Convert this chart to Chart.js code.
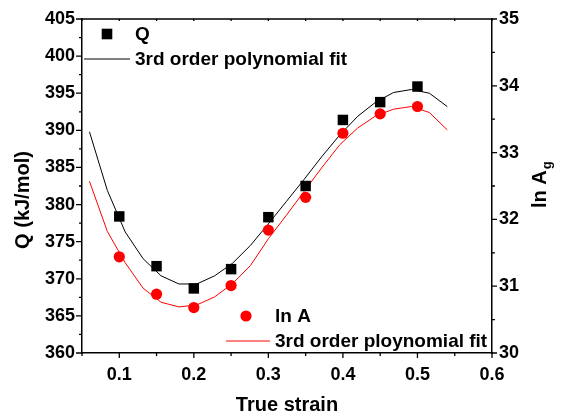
<!DOCTYPE html>
<html>
<head>
<meta charset="utf-8">
<script src="https://cdn.jsdelivr.net/npm/chart.js@4.4.0/dist/chart.umd.min.js"></script>
<style>
  html, body { margin: 0; padding: 0; background: #fff; }
</style>
</head>
<body>
<canvas id="chart" width="561" height="416"></canvas>
<script>
/* ── Data ─────────────────────────────────────────────────────── */
const strain = [0.10, 0.15, 0.20, 0.25, 0.30, 0.35, 0.40, 0.45, 0.50];
const qValues = [378.4, 371.7, 368.7, 371.3, 378.3, 382.5, 391.4, 393.8, 395.9];
const lnAValues = [31.44, 30.88, 30.68, 31.01, 31.84, 32.33, 33.29, 33.58, 33.69];

/* fitted curves, sampled where the original polyline bends */
const fitStrain = [0.060, 0.084, 0.108, 0.132, 0.156, 0.180, 0.204, 0.228, 0.252, 0.276, 0.300,
                   0.324, 0.348, 0.372, 0.396, 0.420, 0.444, 0.468, 0.492, 0.516, 0.540];
const qFit = [389.8, 381.9, 376.3, 372.7, 370.4, 369.3, 369.3, 370.4, 372.1, 374.5, 377.4,
              380.4, 383.4, 386.5, 389.4, 391.9, 393.8, 395.1, 395.5, 395.0, 393.2];
const lnAFit = [32.57, 31.82, 31.35, 30.97, 30.76, 30.69, 30.72, 30.84, 31.04, 31.31, 31.71,
                32.06, 32.42, 32.78, 33.12, 33.37, 33.55, 33.65, 33.69, 33.60, 33.34];

/* ── Axis ticks ───────────────────────────────────────────────── */
const xMajor = [0.1, 0.2, 0.3, 0.4, 0.5, 0.6];
const xMinor = [0.05, 0.15, 0.25, 0.35, 0.45, 0.55];
const yMajor = [360, 365, 370, 375, 380, 385, 390, 395, 400, 405];
const yMinor = [362.5, 367.5, 372.5, 377.5, 382.5, 387.5, 392.5, 397.5, 402.5];
const y2Major = [30, 31, 32, 33, 34, 35];
const y2Minor = [30.5, 31.5, 32.5, 33.5, 34.5];

const FONT = "'Liberation Sans', Arial, Helvetica, sans-serif";
const RED = '#ff0000';

Chart.defaults.font.family = FONT;
Chart.defaults.font.weight = 'bold';
Chart.defaults.color = '#000';

const toPoints = (xs, ys) => xs.map((x, i) => ({ x, y: ys[i] }));
const setTicks = (major, minor) => s => {
  s.ticks = major.concat(minor).sort((a, b) => a - b).map(v => ({ value: v }));
};

/* ── Ticks, frame, axis titles and the two legend blocks ──────── */
const decorations = {
  id: 'decorations',
  afterDraw(chart) {
    const { ctx, chartArea: a, scales } = chart;
    ctx.save();
    ctx.strokeStyle = '#000';
    ctx.lineWidth = 1.3;
    ctx.beginPath();
    scales.x.ticks.forEach(t => {
      const px = scales.x.getPixelForValue(t.value);
      ctx.moveTo(px, a.bottom); ctx.lineTo(px, a.bottom + (t.label ? 5 : 3));
      ctx.moveTo(px, a.top); ctx.lineTo(px, a.top + 2);
    });
    scales.y.ticks.forEach(t => {
      const py = scales.y.getPixelForValue(t.value);
      ctx.moveTo(a.left - (t.label ? 6 : 3), py); ctx.lineTo(a.left, py);
    });
    scales.y2.ticks.forEach(t => {
      const py = scales.y2.getPixelForValue(t.value);
      ctx.moveTo(a.right, py); ctx.lineTo(a.right + (t.label ? 5 : 3), py);
    });
    ctx.moveTo(a.left, a.top); ctx.lineTo(a.right, a.top);
    ctx.stroke();

    // axis titles
    ctx.fillStyle = '#000';
    ctx.font = `bold 20px ${FONT}`;
    ctx.textBaseline = 'middle';
    ctx.save();
    ctx.translate(23, 200);
    ctx.rotate(-Math.PI / 2);
    ctx.textAlign = 'center';
    ctx.fillText('Q (kJ/mol)', 0, 0);
    ctx.restore();

    ctx.save();
    ctx.translate(540, 208);
    ctx.rotate(-Math.PI / 2);
    ctx.textAlign = 'left';
    ctx.fillText('ln A', 0, 0);
    const w = ctx.measureText('ln A').width;
    ctx.font = `bold 13px ${FONT}`;
    ctx.fillText('g', w + 1, 7);
    ctx.restore();

    // legends
    ctx.font = `bold 19px ${FONT}`;
    ctx.textAlign = 'left';
    ctx.fillStyle = '#000';
    ctx.fillRect(107 - 5.3, 34 - 5.3, 10.6, 10.6);
    ctx.fillText('Q', 135, 35);
    ctx.lineWidth = 1;
    ctx.beginPath(); ctx.moveTo(84, 59); ctx.lineTo(130, 59); ctx.stroke();
    ctx.fillText('3rd order polynomial fit', 135, 60);

    ctx.fillStyle = RED;
    ctx.beginPath(); ctx.arc(246, 316, 5.6, 0, Math.PI * 2); ctx.fill();
    ctx.strokeStyle = RED;
    ctx.beginPath(); ctx.moveTo(226, 341); ctx.lineTo(270, 341); ctx.stroke();
    ctx.fillStyle = '#000';
    ctx.fillText('ln A', 275, 317);
    ctx.fillText('3rd order ploynomial fit', 275, 342);
    ctx.restore();
  },
};

new Chart(document.getElementById('chart'), {
  type: 'scatter',
  data: {
    datasets: [
      {
        data: toPoints(strain, qValues), yAxisID: 'y', order: 0,
        pointStyle: 'rect', pointRadius: 7.4, pointBackgroundColor: '#000',
        pointBorderWidth: 0, showLine: false,
      },
      {
        data: toPoints(strain, lnAValues), yAxisID: 'y2', order: 0,
        pointStyle: 'circle', pointRadius: 5.6, pointBackgroundColor: RED,
        pointBorderWidth: 0, showLine: false,
      },
      {
        data: toPoints(fitStrain, qFit), yAxisID: 'y', order: 1,
        showLine: true, borderColor: '#000', borderWidth: 1, pointRadius: 0, tension: 0,
      },
      {
        data: toPoints(fitStrain, lnAFit), yAxisID: 'y2', order: 1,
        showLine: true, borderColor: RED, borderWidth: 1, pointRadius: 0, tension: 0,
      },
    ],
  },
  options: {
    responsive: false,
    animation: false,
    layout: { padding: { top: 19, left: 0, right: 0, bottom: 0 } },
    plugins: { legend: { display: false }, tooltip: { enabled: false } },
    scales: {
      x: {
        type: 'linear', position: 'bottom', min: 0.05, max: 0.6,
        afterBuildTicks: setTicks(xMajor, xMinor),
        afterFit: s => { s.height = 63; },
        grid: { display: false, drawTicks: false },
        border: { display: true, color: '#000', width: 1.5 },
        ticks: {
          autoSkip: false, maxRotation: 0, padding: 11,
          font: { size: 18, weight: 'bold' }, color: '#000',
          callback: v => xMajor.includes(v) ? v.toFixed(1) : '',
        },
        title: {
          display: true, text: 'True strain', color: '#000',
          font: { size: 20, weight: 'bold', lineHeight: 1.1 }, padding: { top: 0, bottom: 0 },
        },
      },
      y: {
        type: 'linear', position: 'left', min: 360, max: 405,
        afterBuildTicks: setTicks(yMajor, yMinor),
        afterFit: s => { s.width = 82; },
        grid: { display: false, drawTicks: false },
        border: { display: true, color: '#000', width: 1.5 },
        ticks: {
          autoSkip: false, padding: 7,
          font: { size: 18, weight: 'bold' }, color: '#000',
          callback: v => yMajor.includes(v) ? String(v) : '',
        },
      },
      y2: {
        type: 'linear', position: 'right', min: 30, max: 35,
        afterBuildTicks: setTicks(y2Major, y2Minor),
        afterFit: s => { s.width = 69; },
        grid: { display: false, drawTicks: false },
        border: { display: true, color: '#000', width: 1.5 },
        ticks: {
          autoSkip: false, padding: 7,
          font: { size: 18, weight: 'bold' }, color: '#000',
          callback: v => y2Major.includes(v) ? String(v) : '',
        },
      },
    },
  },
  plugins: [decorations],
});
</script>
</body>
</html>
